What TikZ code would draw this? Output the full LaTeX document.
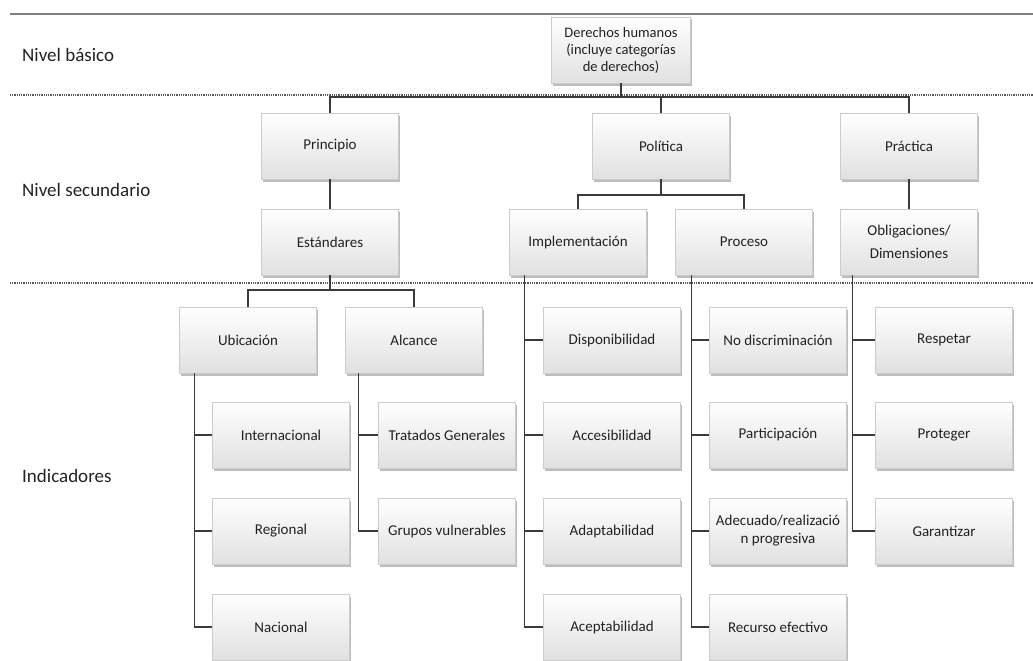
\documentclass[tikz,border=0pt]{standalone}
\usepackage{fontspec}
\setmainfont{Carlito}
\usetikzlibrary{shadows,shadings}
\definecolor{txt}{HTML}{222222}
\definecolor{lnc}{HTML}{3A3A3A}
\tikzset{
  box/.style={draw=black!20, line width=0.5pt, top color=white, bottom color=black!12,
    minimum width=137pt, minimum height=66pt, inner sep=1pt, align=center,
    text=txt, font=\fontsize{15}{18}\selectfont,
    drop shadow={shadow xshift=1pt, shadow yshift=-2.5pt, opacity=0.4, fill=black!65}},
  conn/.style={draw=lnc, line width=1.3pt},
  lvl/.style={anchor=west, text=txt, font=\fontsize{19}{22}\selectfont, inner sep=0pt},
  sep/.style={draw=black!65, line width=1.1pt, dash pattern=on 0.9pt off 0.9pt}
}
\begin{document}
\begin{tikzpicture}[x=1pt,y=-1pt]
\useasboundingbox (0,0) rectangle (1033,661);
% guide lines
\coordinate (tl) at (10,14);
\coordinate (tr) at (1033,14);
\draw[draw=black!50, line width=2pt] (tl) -- (tr);
\coordinate (d1l) at (10,95);
\coordinate (d1r) at (1033,95);
\draw[sep] (d1l) -- (d1r);
\coordinate (d2l) at (10,283);
\coordinate (d2r) at (1033,283);
\draw[sep] (d2l) -- (d2r);
% level labels
\node[lvl] (l1) at (22,55) {Nivel básico};
\node[lvl] (l2) at (22,190) {Nivel secundario};
\node[lvl] (l3) at (22,476) {Indicadores};
% boxes
\node[box, font=\fontsize{14.5}{17}\selectfont, minimum width=139pt] (dh) at (621,50) {Derechos humanos\\(incluye categorías\\de derechos)};
\node[box] (pri) at (330,146) {Principio};
\node[box] (pol) at (661,146) {Política};
\node[box] (pra) at (909,146) {Práctica};
\node[box] (est) at (330,242) {Estándares};
\node[box] (imp) at (578,242) {Implementación};
\node[box] (pro) at (744,242) {Proceso};
\node[box] (obl) at (909,242) {Obligaciones/\\[5pt]Dimensiones};
\node[box] (ubi) at (248,340) {Ubicación};
\node[box] (alc) at (414,340) {Alcance};
\node[box] (int) at (281,435) {Internacional};
\node[box] (reg) at (281,531) {Regional};
\node[box] (nac) at (281,627) {Nacional};
\node[box] (tra) at (447,435) {Tratados Generales};
\node[box] (gru) at (447,531) {Grupos vulnerables};
\node[box] (dis) at (612,340) {Disponibilidad};
\node[box] (acc) at (612,435) {Accesibilidad};
\node[box] (ada) at (612,531) {Adaptabilidad};
\node[box] (ace) at (612,627) {Aceptabilidad};
\node[box] (nod) at (778,340) {No discriminación};
\node[box] (par) at (778,435) {Participación};
\node[box] (ade) at (778,531) {Adecuado/realizació\\n progresiva};
\node[box] (rec) at (778,627) {Recurso efectivo};
\node[box] (res) at (944,340) {Respetar};
\node[box] (prot) at (944,435) {Proteger};
\node[box] (gar) at (944,531) {Garantizar};
% bars
\coordinate (b1) at (0,97);
\coordinate (b2) at (0,195);
\coordinate (b3) at (0,290);
\draw[conn] (dh.south) -- (dh.south |- b1);
\draw[conn] (pri.north) |- (pra.north |- b1) -- (pra.north);
\draw[conn] (pol.north |- b1) -- (pol.north);
\draw[conn] (pri.south) -- (est.north);
\draw[conn] (pra.south) -- (obl.north);
\draw[conn] (pol.south) -- (pol.south |- b2);
\draw[conn] (imp.north) |- (pro.north |- b2) -- (pro.north);
\draw[conn] (est.south) -- (est.south |- b3);
\draw[conn] (ubi.north) |- (alc.north |- b3) -- (alc.north);
% branches
\coordinate (cu) at ([xshift=15pt]ubi.south west);
\draw[conn] (cu) |- (nac.west);
\draw[conn] (cu |- int.west) -- (int.west);
\draw[conn] (cu |- reg.west) -- (reg.west);
\coordinate (ca) at ([xshift=13pt]alc.south west);
\draw[conn] (ca) |- (gru.west);
\draw[conn] (ca |- tra.west) -- (tra.west);
\coordinate (ci) at ([xshift=15pt]imp.south west);
\draw[conn] (ci) |- (ace.west);
\draw[conn] (ci |- dis.west) -- (dis.west);
\draw[conn] (ci |- acc.west) -- (acc.west);
\draw[conn] (ci |- ada.west) -- (ada.west);
\coordinate (cp) at ([xshift=16pt]pro.south west);
\draw[conn] (cp) |- (rec.west);
\draw[conn] (cp |- nod.west) -- (nod.west);
\draw[conn] (cp |- par.west) -- (par.west);
\draw[conn] (cp |- ade.west) -- (ade.west);
\coordinate (co) at ([xshift=12pt]obl.south west);
\draw[conn] (co) |- (gar.west);
\draw[conn] (co |- res.west) -- (res.west);
\draw[conn] (co |- prot.west) -- (prot.west);
\end{tikzpicture}
\end{document}
